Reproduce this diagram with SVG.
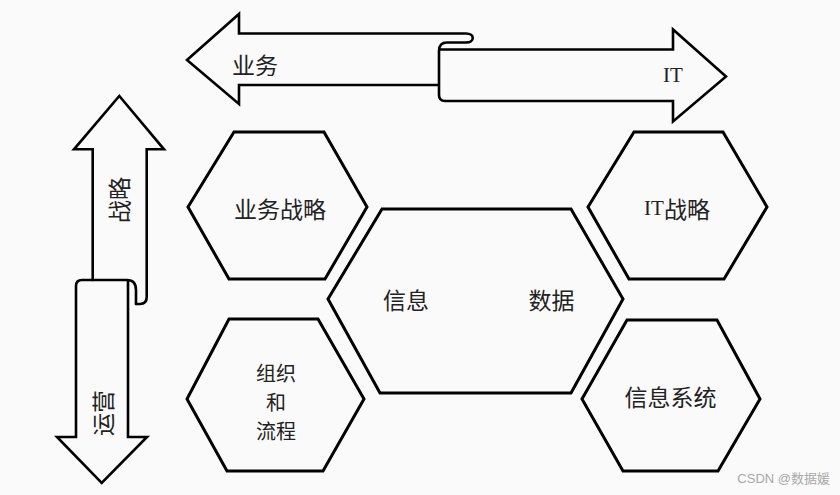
<svg xmlns="http://www.w3.org/2000/svg" width="840" height="495" viewBox="0 0 840 495">
<style>
.bg{fill:#fafafa}
.hex{fill:#fafafa;stroke:#000;stroke-width:3;stroke-linejoin:miter}
.arr{fill:none;stroke:#000;stroke-width:2.6;stroke-linejoin:miter;stroke-linecap:round}
.t{font-family:"Noto Sans CJK SC","Liberation Serif",serif;font-size:23px;fill:#222;dominant-baseline:central;text-anchor:middle}
.lat{font-family:"Liberation Serif","Noto Sans CJK SC",serif}
.wm{font-family:"Liberation Sans","Noto Sans CJK SC",sans-serif;font-size:13px;fill:#a8a8a8;text-anchor:end;dominant-baseline:central}
</style>
<rect class="bg" x="0" y="0" width="840" height="495"/>
<g id="arrows">
  <g id="arrow-business-it">
    <path class="arr" d="M439 85 H239 V104 L187 60 L239 14 V33.5 H466 C475 33.5 475 42.5 466 42.5 H447 Q439 42.5 439 51 V95 Q439 101 445 101 H673 V121.5 L726 76.5 L673 29.5 V49.5 H441"/>
    <text class="t" x="255" y="63.5">业务</text>
    <text class="t lat" x="673" y="75" style="font-size:21px">IT</text>
  </g>
  <g id="arrow-strategy-operation">
    <path class="arr" d="M92.7 280 V149.3 H74 L119.3 96 L164 149.3 H146.7 V297 Q146.7 304 140 304 H136"/>
    <path class="arr" d="M128 281 V437 H147 L101.7 483 L57 437 H76 V286 Q76 280 82 280 H127 Q136 280 136 290 V304"/>
    <text class="t" x="118" y="200" transform="rotate(-90 118 200)">战略</text>
    <text class="t" x="102" y="413" transform="rotate(-90 102 413)">运营</text>
  </g>
</g>
<g id="node-business-strategy">
  <polygon class="hex" points="234,132 324,132 367,207 325,279 229,279 188,207"/>
  <text class="t" x="280" y="208">业务战略</text>
</g>
<g id="node-it-strategy">
  <polygon class="hex" points="634,132 723,132 767,207 724,279 629,279 588,207"/>
  <text class="t" x="677" y="207.5"><tspan class="lat" style="font-size:21px">IT</tspan>战略</text>
</g>
<g id="node-info-data">
  <polygon class="hex" points="382,209 571,209 623,299 571,393 380,393 328,299"/>
  <text class="t" x="406" y="299">信息</text>
  <text class="t" x="551.5" y="299">数据</text>
</g>
<g id="node-org-process">
  <polygon class="hex" points="229,319 318,319 364,399 323,471 227,471 187,399"/>
  <text class="t" style="font-size:20px"><tspan x="276" y="371.5">组织</tspan><tspan x="276" y="400.7">和</tspan><tspan x="276" y="430">流程</tspan></text>
</g>
<g id="node-info-system">
  <polygon class="hex" points="627,320 717,320 760,399 718,471 623,471 582,399"/>
  <text class="t" x="670.5" y="395.5">信息系统</text>
</g>
<text class="wm" x="830" y="478">CSDN @数据媛</text>
</svg>
